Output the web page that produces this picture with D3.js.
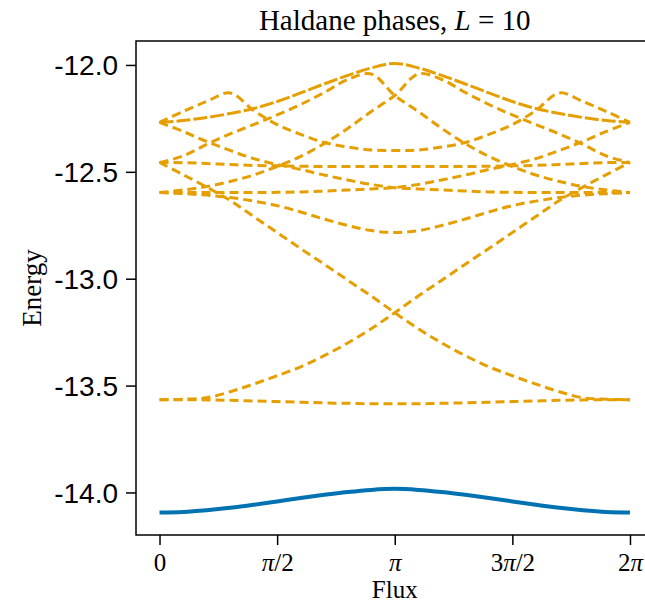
<!DOCTYPE html>
<html>
<head>
<meta charset="utf-8">
<script src="https://cdn.jsdelivr.net/npm/d3@7"></script>
<style>
    body { margin: 0; background: #fff; }
    svg { display: block; }
</style>
</head>
<body>
<svg id="chart" width="645" height="604"></svg>
<script>
// flux samples, in units of pi
const fluxOverPi = [0, 0.1, 0.2, 0.3, 0.4, 0.5, 0.6, 0.7, 0.8, 0.9, 1, 1.1, 1.2, 1.3, 1.4, 1.5, 1.6, 1.7, 1.8, 1.9, 2];

// ground state (solid blue)
const groundState = [-14.094, -14.091, -14.083, -14.072, -14.058, -14.042, -14.026, -14.011, -13.998, -13.988, -13.983,
    -13.988, -13.998, -14.011, -14.026, -14.042, -14.058, -14.072, -14.083, -14.091, -14.094];

// excited levels (dashed orange)
const levelTop = [-12.269, -12.260, -12.246, -12.227, -12.204, -12.171, -12.131, -12.089, -12.049, -12.014, -11.993,
    -12.014, -12.049, -12.089, -12.131, -12.171, -12.204, -12.227, -12.246, -12.260, -12.269];
const levelHump = [-12.269, -12.218, -12.171, -12.131, -12.213, -12.279, -12.325, -12.363, -12.384, -12.398, -12.400,
    -12.398, -12.384, -12.363, -12.325, -12.279, -12.213, -12.131, -12.171, -12.218, -12.269];
const levelPeakLeft = [-12.456, -12.426, -12.372, -12.323, -12.279, -12.234, -12.185, -12.129, -12.068, -12.042, -12.143,
    -12.218, -12.297, -12.368, -12.428, -12.475, -12.515, -12.545, -12.569, -12.585, -12.597];
const levelPeakRight = [-12.597, -12.585, -12.569, -12.545, -12.515, -12.475, -12.428, -12.368, -12.297, -12.218, -12.143,
    -12.042, -12.068, -12.129, -12.185, -12.234, -12.279, -12.323, -12.372, -12.426, -12.456];
const levelFlat = [-12.456, -12.457, -12.461, -12.466, -12.470, -12.472, -12.474, -12.475, -12.475, -12.475, -12.475,
    -12.475, -12.475, -12.475, -12.474, -12.472, -12.470, -12.466, -12.461, -12.457, -12.456];
const levelSlopeDown = [-12.269, -12.311, -12.358, -12.400, -12.438, -12.466, -12.489, -12.515, -12.538, -12.559, -12.574,
    -12.580, -12.585, -12.590, -12.594, -12.596, -12.597, -12.597, -12.597, -12.597, -12.597];
const levelSlopeUp = [-12.597, -12.597, -12.597, -12.597, -12.597, -12.596, -12.594, -12.590, -12.585, -12.580, -12.574,
    -12.559, -12.538, -12.515, -12.489, -12.466, -12.438, -12.400, -12.358, -12.311, -12.269];
const levelBowl = [-12.597, -12.602, -12.609, -12.620, -12.637, -12.658, -12.688, -12.721, -12.751, -12.775, -12.784,
    -12.775, -12.751, -12.721, -12.688, -12.658, -12.637, -12.620, -12.609, -12.602, -12.597];
const levelCrossUp = [-13.566, -13.564, -13.557, -13.529, -13.493, -13.454, -13.412, -13.360, -13.301, -13.234, -13.159,
    -13.081, -13.007, -12.932, -12.859, -12.784, -12.709, -12.634, -12.571, -12.513, -12.456];
const levelCrossDown = [-12.456, -12.513, -12.571, -12.634, -12.709, -12.784, -12.859, -12.932, -13.007, -13.081, -13.159,
    -13.234, -13.301, -13.360, -13.412, -13.454, -13.493, -13.529, -13.557, -13.564, -13.566];
const levelLow = [-13.566, -13.566, -13.567, -13.569, -13.572, -13.575, -13.578, -13.581, -13.583, -13.585, -13.585,
    -13.585, -13.583, -13.581, -13.578, -13.575, -13.572, -13.569, -13.567, -13.566, -13.566];

const excited = [levelLow, levelCrossUp, levelCrossDown, levelBowl, levelSlopeUp, levelSlopeDown,
    levelFlat, levelPeakRight, levelPeakLeft, levelHump, levelTop];

const xTickValues = [0, 0.5, 1, 1.5, 2];
const xTickLabels = [["0"], ["π", "/2"], ["π"], ["3", "π", "/2"], ["2", "π"]];
const yTickValues = [-14, -13.5, -13, -12.5, -12];

const blue = "#0072B2";
const orange = "#E69F00";
const serif = "'Liberation Serif', 'DejaVu Serif', serif";
const sans = "'Liberation Sans', Arial, sans-serif";

const svg = d3.select("#chart");
const plotLeft = 136, plotRight = 653.5, plotTop = 41, plotBottom = 535;

// 5% margins like the original autolimits
const xMin = 0, xMax = 2 * Math.PI;
const xPad = (xMax - xMin) * 0.05;
const x = d3.scaleLinear()
    .domain([xMin - xPad, xMax + xPad])
    .range([plotLeft, plotRight]);

const allValues = [groundState].concat(excited).flat();
const yExt = d3.extent(allValues);
const yPad = (yExt[1] - yExt[0]) * 0.05;
const y = d3.scaleLinear()
    .domain([yExt[0] - yPad, yExt[1] + yPad])
    .range([plotBottom, plotTop]);

const line = d3.line()
    .x((d, i) => x(fluxOverPi[i] * Math.PI))
    .y(d => y(d))
    .curve(d3.curveCatmullRom.alpha(0.5));

svg.append("defs").append("clipPath")
    .attr("id", "plotClip")
    .append("rect")
    .attr("x", plotLeft)
    .attr("y", plotTop)
    .attr("width", plotRight - plotLeft)
    .attr("height", plotBottom - plotTop);

const lines = svg.append("g").attr("clip-path", "url(#plotClip)");

lines.selectAll(".excited")
    .data(excited)
    .enter()
    .append("path")
    .attr("class", "excited")
    .attr("d", line)
    .attr("fill", "none")
    .attr("stroke", orange)
    .attr("stroke-width", 3)
    .attr("stroke-dasharray", d => d === levelTop ? "14,3" : "9,5");

lines.append("path")
    .datum(groundState)
    .attr("d", line)
    .attr("fill", "none")
    .attr("stroke", blue)
    .attr("stroke-width", 4);

// frame
svg.append("rect")
    .attr("x", plotLeft)
    .attr("y", plotTop)
    .attr("width", plotRight - plotLeft)
    .attr("height", plotBottom - plotTop)
    .attr("fill", "none")
    .attr("stroke", "#000")
    .attr("stroke-width", 1.5);

// y axis
const yAxis = svg.append("g")
    .attr("transform", "translate(" + plotLeft + ",0)")
    .call(d3.axisLeft(y)
        .tickValues(yTickValues)
        .tickFormat(d => d.toFixed(1))
        .tickSize(10)
        .tickPadding(8));
yAxis.select(".domain").remove();
yAxis.selectAll("line").attr("stroke", "#000").attr("stroke-width", 1.5);
yAxis.selectAll("text")
    .attr("fill", "#000")
    .style("font-family", sans)
    .style("font-size", "28px")
    .attr("dy", "0.35em");

// x axis
const xAxis = svg.append("g")
    .attr("transform", "translate(0," + plotBottom + ")")
    .call(d3.axisBottom(x)
        .tickValues(xTickValues.map(v => v * Math.PI))
        .tickSize(10)
        .tickPadding(8));
xAxis.select(".domain").remove();
xAxis.selectAll("line").attr("stroke", "#000").attr("stroke-width", 1.5);
xAxis.selectAll("text")
    .attr("fill", "#000")
    .style("font-family", serif)
    .style("font-size", "25px")
    .text(null)
    .each(function(d, i) {
        let t = d3.select(this);
        xTickLabels[i].forEach(function(part) {
            t.append("tspan")
                .style("font-style", part === "π" ? "italic" : "normal")
                .text(part);
        });
    });

// title and axis labels
const title = svg.append("text")
    .attr("x", (plotLeft + plotRight) / 2)
    .attr("y", 30)
    .attr("text-anchor", "middle")
    .style("font-family", serif)
    .style("font-size", "29px");
title.append("tspan").text("Haldane phases, ");
title.append("tspan").style("font-style", "italic").text("L");
title.append("tspan").text(" = 10");

svg.append("text")
    .attr("x", (plotLeft + plotRight) / 2)
    .attr("y", 598)
    .attr("text-anchor", "middle")
    .style("font-family", serif)
    .style("font-size", "25px")
    .text("Flux");

svg.append("text")
    .attr("transform", "translate(41," + ((plotTop + plotBottom) / 2) + ") rotate(-90)")
    .attr("text-anchor", "middle")
    .style("font-family", serif)
    .style("font-size", "27px")
    .text("Energy");
</script>
</body>
</html>
